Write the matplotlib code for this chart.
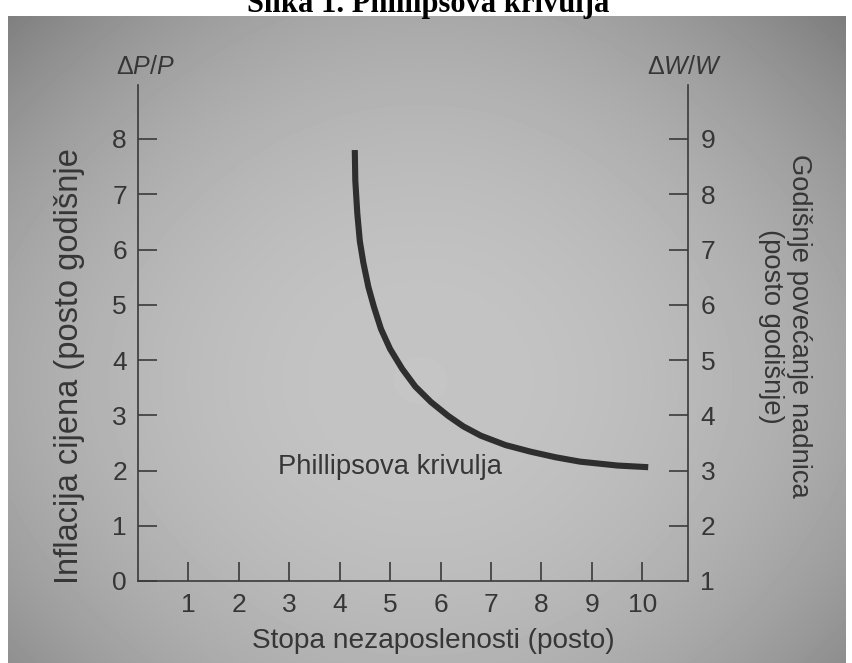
#Phillips curve, textbook figure redrawn (Slika 1)

import numpy as np
import matplotlib
matplotlib.use('Agg')
import matplotlib.pyplot as plt

#Data
#---------------------------------
unemployment=[4.30, 4.31, 4.35, 4.40, 4.47, 4.57, 4.68, 4.82, 5.00, 5.24, 5.50,
              5.81, 6.15, 6.45, 6.80, 7.29, 7.79, 8.28, 8.77, 9.51, 10.12]
inflation=[7.80, 7.25, 6.65, 6.15, 5.76, 5.32, 4.96, 4.56, 4.20, 3.84, 3.52,
           3.24, 2.99, 2.80, 2.63, 2.46, 2.34, 2.24, 2.16, 2.09, 2.06]

x_ticks=[1, 2, 3, 4, 5, 6, 7, 8, 9, 10]
y_left_ticks=[0, 1, 2, 3, 4, 5, 6, 7, 8]
y_right_ticks=[1, 2, 3, 4, 5, 6, 7, 8, 9]

title='Slika 1. Phillipsova krivulja'
curve_label='Phillipsova krivulja'
x_label='Stopa nezaposlenosti (posto)'
y_left_label='Inflacija cijena (posto godišnje'
y_right_label='Godišnje povećanje nadnica\n(posto godišnje)'
#---------------------------------

#Fonts and sizes
#---------------------------------
plt.rcParams['font.family']=['Liberation Sans', 'DejaVu Sans']
plt.rcParams['mathtext.fontset']='custom'
plt.rcParams['mathtext.rm']='Liberation Sans'
plt.rcParams['mathtext.it']='Liberation Sans:italic'
size_text=19.7;size_ticks=19;size_delta=18
ink='#363636';line_c='#3a3a3a';curve_c='#2e2e2e'
#---------------------------------

W=852;H=663
fig=plt.figure(figsize=(W/100, H/100), dpi=100, facecolor='white')

#Photo background with vignette
#---------------------------------
bg=fig.add_axes([8/W, 0, (846-8)/W, (H-16)/H], zorder=-1)
yy, xx=np.mgrid[16:H, 8:846]
u=(xx-420)/430.;w=(yy-380)/380.
shade=0.77-0.12*(u**2+w**2)-0.06*u**2*w**2
bg.imshow(shade, cmap='gray', vmin=0, vmax=1, aspect='auto', interpolation='bilinear')
bg.axis('off')
#---------------------------------

#Main axes (pixel layout of the figure)
#---------------------------------
x0=138;x1=688;y_bot=581;y_top=85
ax=fig.add_axes([x0/W, (H-y_bot)/H, (x1-x0)/W, (y_bot-y_top)/H])
ax.patch.set_alpha(0)
ytop=(y_bot-y_top)/55.25
ax.set_xlim(0, (x1-x0+2)/50.6)
ax.set_ylim(0, ytop)

ax.plot(unemployment, inflation, color=curve_c, lw=4.4, solid_capstyle='butt',
        solid_joinstyle='round')
ax.text(2.78, 2.07, curve_label, fontsize=size_text, color=ink, ha='left', va='center')

for s in ['top', 'right']:
    ax.spines[s].set_visible(False)
for s in ['left', 'bottom']:
    ax.spines[s].set_color(line_c);ax.spines[s].set_linewidth(1.2)

ax.set_xticks(x_ticks)
ax.set_xticklabels([str(t) for t in x_ticks])
ax.set_yticks(y_left_ticks)
ax.set_yticklabels([str(t) for t in y_left_ticks])
ax.tick_params(direction='in', length=14, width=1.2, color=line_c, labelcolor=ink,
               labelsize=size_ticks)
ax.tick_params(axis='x', pad=9)
ax.tick_params(axis='y', pad=8)
ax.yaxis.get_major_ticks()[0].tick1line.set_visible(False)

#Right axis: wages, shifted by one
ax2=ax.twinx()
ax2.set_ylim(1, 1+ytop)
for s in ['top', 'left', 'bottom']:
    ax2.spines[s].set_visible(False)
ax2.spines['right'].set_color(line_c);ax2.spines['right'].set_linewidth(1.2)
ax2.set_yticks(y_right_ticks)
ax2.set_yticklabels([str(t) for t in y_right_ticks])
ax2.tick_params(direction='in', length=14, width=1.2, color=line_c, labelcolor=ink,
                labelsize=size_ticks, pad=9)
ax2.yaxis.get_major_ticks()[0].tick2line.set_visible(False)
#---------------------------------

#Labels
#---------------------------------
fig.text(433/W, 1-641/H, x_label, fontsize=20.2, color=ink, ha='center', va='center')
fig.text(70/W, 1-366/H, y_left_label, fontsize=23.5, color=ink, rotation=90,
         ha='center', va='center')
fig.text(785/W, 1-326/H, y_right_label, fontsize=size_text, color=ink, rotation=-90,
         ha='center', va='center', multialignment='center', linespacing=1.1)
fig.text(145/W, 1-67/H, r'$\Delta P/P$', fontsize=size_delta, color=ink, ha='center', va='center')
fig.text(684/W, 1-67/H, r'$\Delta W/W$', fontsize=size_delta, color=ink, ha='center', va='center')

#Title, cut by the top of the page
fig.text(428/W, 1-12/H, title, fontsize=22, family='Liberation Serif', weight='bold',
         color='black', ha='center', va='baseline')
#---------------------------------

plt.savefig('out.png', dpi=100)
